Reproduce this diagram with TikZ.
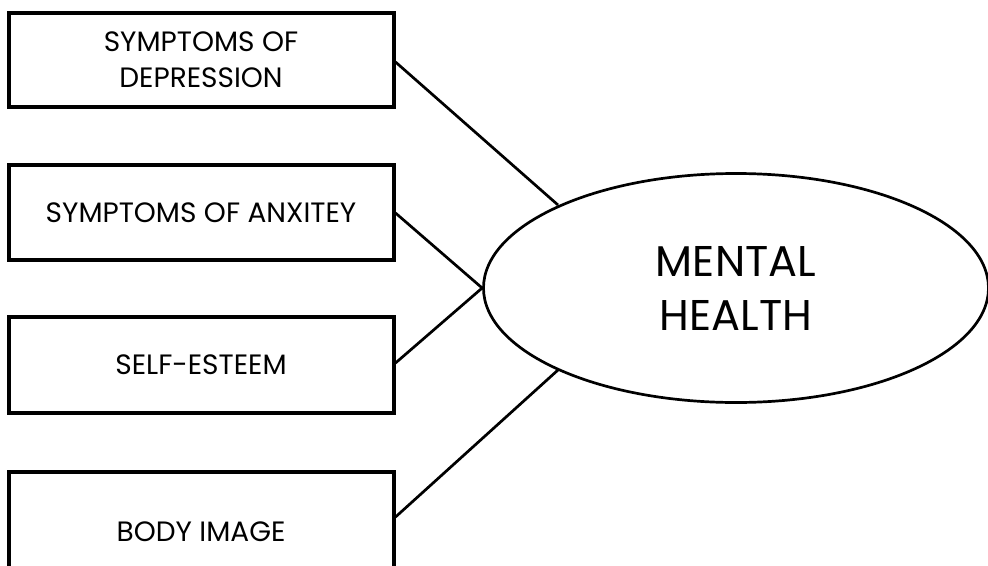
\documentclass[tikz,border=0pt]{standalone}
\usepackage{fontspec}
\setmainfont{Poppins}
\usetikzlibrary{shapes.geometric}
\begin{document}
\begin{tikzpicture}[x=1pt,y=-1pt,
  factor/.style={draw=black,line width=4pt,minimum width=385pt,inner sep=0pt,
    align=center,font=\fontsize{28}{36}\selectfont},
  construct/.style={ellipse,draw=black,line width=2.7pt,minimum width=505pt,
    minimum height=229pt,inner sep=0pt,align=center,font=\fontsize{43}{54}\selectfont},
  link/.style={draw=black,line width=2.7pt}]
\useasboundingbox (0,0) rectangle (988,565);
\clip (0,0) rectangle (988,565);
\node[factor,minimum height=94pt] (dep) at (201,60) {SYMPTOMS OF\\DEPRESSION};
\node[factor,minimum height=95pt] (anx) at (201,212.5) {SYMPTOMS OF ANXITEY};
\node[factor,minimum height=96pt] (est) at (201,365) {SELF-ESTEEM};
\node[factor,minimum height=120pt] (body) at (201,532) {BODY IMAGE};
\node[construct] (mh) at (736,288) {MENTAL\\HEALTH};
\draw[link] (dep.east |- 0,62) -- (558,205);
\draw[link] (anx.east |- 0,213) -- (mh.west);
\draw[link] (est.east |- 0,363) -- (mh.west);
\draw[link] (body.east |- 0,517) -- (558,370);
\end{tikzpicture}
\end{document}
